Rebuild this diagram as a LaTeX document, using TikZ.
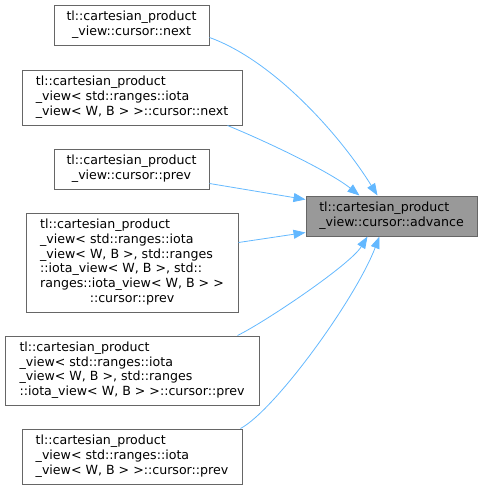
\documentclass[tikz,border=0pt]{standalone}
\usepackage{fontspec}
\setmainfont{DejaVu Sans}
\usetikzlibrary{arrows.meta,calc}
\definecolor{edgec}{HTML}{63B8FF}
\definecolor{boxc}{HTML}{666666}
\definecolor{rootc}{HTML}{999999}
\newcommand{\lefttab}[1]{\begin{tabular}{@{}l@{}}#1\end{tabular}}
\newcommand{\centtab}[1]{\begin{tabular}{@{}c@{}}#1\end{tabular}}
\begin{document}
\begin{tikzpicture}[x=1pt,y=-1pt,
  box/.style={draw=boxc,fill=white,line width=1pt,inner sep=0pt,
    font=\fontsize{12.6}{14.7}\selectfont},
  root/.style={box,fill=rootc},
  edge/.style={draw=edgec,line width=0.8pt,-{Triangle[length=12pt,width=9pt]}}]
\useasboundingbox (0,0) rectangle (483,490);
\node[box,minimum width=155pt,minimum height=40pt] (b1) at (131.5,25)
  {\centtab{tl::cartesian\_product\\\_view::cursor::next}};
\node[box,minimum width=220pt,minimum height=55pt] (b2) at (132,97.5)
  {\lefttab{tl::cartesian\_product\\\_view< std::ranges::iota\\\_view< W, B > >::cursor::next}};
\node[box,minimum width=155pt,minimum height=40pt] (b3) at (131.5,169)
  {\centtab{tl::cartesian\_product\\\_view::cursor::prev}};
\node[box,minimum width=212pt,minimum height=99pt] (b4) at (132,262.5)
  {\lefttab{tl::cartesian\_product\\\_view< std::ranges::iota\\\_view< W, B >, std::ranges\\::iota\_view< W, B >, std::\\ranges::iota\_view< W, B > >\\\multicolumn{1}{@{}c@{}}{::cursor::prev}}};
\node[box,minimum width=254pt,minimum height=69pt] (b5) at (132,370.5)
  {\lefttab{tl::cartesian\_product\\\_view< std::ranges::iota\\\_view< W, B >, std::ranges\\::iota\_view< W, B > >::cursor::prev}};
\node[box,minimum width=220pt,minimum height=55pt] (b6) at (132,456.5)
  {\lefttab{tl::cartesian\_product\\\_view< std::ranges::iota\\\_view< W, B > >::cursor::prev}};
\node[root,minimum width=171pt,minimum height=40pt] (t) at (391.5,216)
  {\lefttab{tl::cartesian\_product\\\_view::cursor::advance}};
\draw[edge] ($(b1.south east)+(0,-8)$) .. controls (272,60) and (338,132) .. ($(t.north west)+(72,0)$);
\draw[edge] ($(b2.south east)+(-15,0)$) .. controls (270,143) and (330,172) .. ($(t.north west)+(54,0)$);
\draw[edge] ($(b3.south east)+(0,-6)$) -- ($(t.north west)+(0,4)$);
\draw[edge] ($(b4.north east)+(0,30)$) -- ($(t.south west)+(0,-4)$);
\draw[edge] ($(b5.north east)+(-22,0)$) .. controls (265,322) and (350,265) .. ($(t.south west)+(62,0)$);
\draw[edge] ($(b6.north east)+(-2,0)$) .. controls (275,410) and (355,300) .. ($(t.south west)+(74,0)$);
\end{tikzpicture}
\end{document}
